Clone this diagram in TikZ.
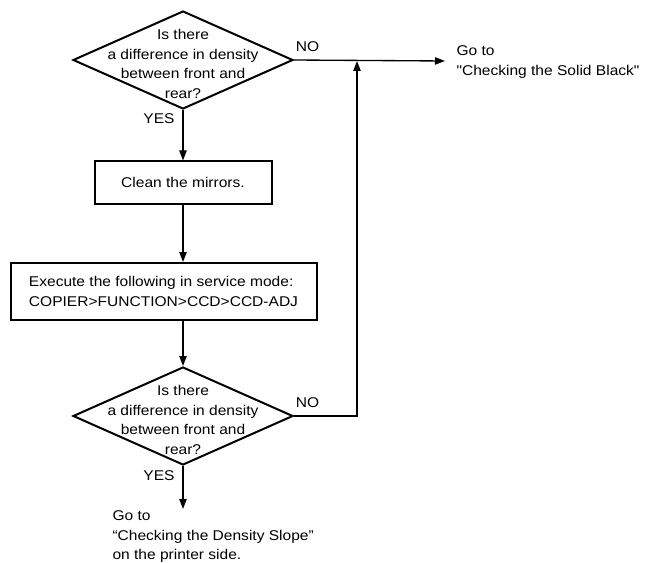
\documentclass[tikz,border=0pt]{standalone}
\usepackage{fontspec}
\setmainfont{Liberation Sans}[FakeStretch=1.1,Ligatures=TeXOff]
\usetikzlibrary{shapes.geometric,arrows.meta}

\tikzset{every picture/.style={line width=0.75pt}}
\tikzset{
  decision/.style={diamond, draw, line width=1.5pt, minimum width=165pt, minimum height=73.5pt, inner sep=0pt},
  process/.style={rectangle, draw, line width=1.5pt, inner sep=0pt},
  flow/.style={line width=1pt, -{Triangle[length=7.5pt,width=5.5pt]}},
  txt/.style={inner sep=0pt, font=\fontsize{10.6}{14.8}\selectfont}
}

\begin{document}
\begin{tikzpicture}[x=0.75pt,y=0.75pt,yscale=-1,xscale=1]
\useasboundingbox (0,0) rectangle (667,563);

%Shape: Diamond [id:q1]
\draw (183,60) node [decision, label={[txt,align=center,yshift=-3pt]center:Is there\\a difference in density\\between front and\\rear?}] (q1) {};
%Shape: Rectangle [id:clean]
\draw (183,182.5) node [process, txt, minimum width=132.75pt, minimum height=31.5pt] (clean) {Clean the mirrors.};
%Shape: Rectangle [id:exec]
\draw (163.5,291.5) node [process, txt, align=left, minimum width=229.5pt, minimum height=42.75pt] (exec) {Execute the following in service mode:\\COPIER>FUNCTION>CCD>CCD-ADJ};
%Shape: Diamond [id:q2]
\draw (183,416) node [decision, label={[txt,align=center,yshift=-3pt]center:Is there\\a difference in density\\between front and\\rear?}] (q2) {};

%Coordinates for the free ends
\coordinate (out1) at (445,61);
\coordinate (ret) at (357,61);
\coordinate (out2) at (183,509);

%Straight Lines
\draw [flow] (q1.south) -- (clean.north);
\draw [flow] (clean.south) -- (exec.north -| clean.south);
\draw [flow] (exec.south -| q2.north) -- (q2.north);
\draw [flow] (q1.east) -- (out1);
\draw [flow] (q2.south) -- (out2);
%Return line
\draw [flow] (q2.east) -- (q2.east -| ret) -- (ret);

% Text Node
\draw (q1.east) node [txt, anchor=south west, xshift=1pt, yshift=6pt] {NO};
% Text Node
\draw (q1.south) node [txt, anchor=north east, xshift=-6pt, yshift=-2.25pt] {YES};
% Text Node
\draw (q2.east) node [txt, anchor=south west, xshift=1pt, yshift=6pt] {NO};
% Text Node
\draw (q2.south) node [txt, anchor=north east, xshift=-6pt, yshift=-3pt] {YES};
% Text Node
\draw (456,45) node [txt, anchor=north west, align=left] (go1) {Go to\\"Checking the Solid Black"};
% Text Node
\draw (112,510) node [txt, anchor=north west, align=left] (go2) {Go to\\“Checking the Density Slope”\\on the printer side.};

\end{tikzpicture}
\end{document}
